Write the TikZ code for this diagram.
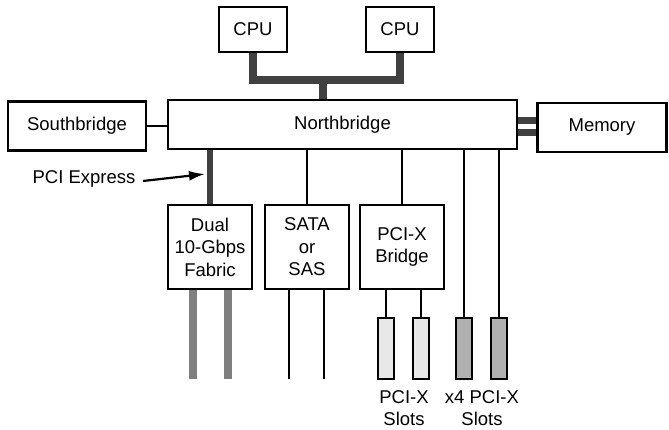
\documentclass[tikz,border=0pt]{standalone}
\usepackage{fontspec}
\setmainfont{Liberation Sans}
\usetikzlibrary{arrows.meta}
\definecolor{busgray}{HTML}{404040}
\definecolor{midgray}{HTML}{7F7F7F}
\definecolor{slotlight}{HTML}{E8E8E8}
\definecolor{slotdark}{HTML}{B0B0B0}
\begin{document}
\begin{tikzpicture}[x=1pt,y=-1pt,
  every node/.style={font=\fontsize{18.5}{22.5}\selectfont, inner sep=0pt},
  box/.style={draw, line width=2.2pt, fill=white, align=center},
  slot/.style={draw, line width=2pt, minimum width=16pt, minimum height=61pt},
  thin/.style={line width=2pt},
  bus/.style={line width=8pt, color=busgray, line join=miter},
  membus/.style={line width=6.5pt, color=busgray},
  fab/.style={line width=8pt, color=midgray},
  lbl/.style={align=center}]
\useasboundingbox (0,0) rectangle (669,429);
\fill[white] (0,0) rectangle (669,429);

% nodes
\node[box, minimum width=68pt, minimum height=45pt] (cpu1) at (253,29.5) {CPU};
\node[box, minimum width=68pt, minimum height=45pt] (cpu2) at (400,29.5) {CPU};
\node[box, minimum width=349pt, minimum height=49pt] (nb) at (342.5,124.5) {Northbridge};
\node[box, minimum width=138pt, minimum height=49pt] (sb) at (77,126) {Southbridge};
\node[box, minimum width=129pt, minimum height=49pt] (mem) at (602,127.5) {Memory};
\node[box, minimum width=84pt, minimum height=84pt] (dual) at (210,247) {Dual\\10-Gbps\\Fabric};
\node[box, minimum width=84pt, minimum height=84pt] (sata) at (307,247) {SATA\\or\\SAS};
\node[box, minimum width=84pt, minimum height=84pt] (bridge) at (402,247) {PCI-X\\Bridge};
\node[slot, fill=slotlight] (s1) at (386,348.5) {};
\node[slot, fill=slotlight] (s2) at (421,348.5) {};
\node[slot, fill=slotdark] (s3) at (464,348.5) {};
\node[slot, fill=slotdark] (s4) at (499,348.5) {};
\node[lbl] (l1) at (404,408) {PCI-X\\Slots};
\node[lbl] (l2) at (482,408) {x4 PCI-X\\Slots};
\node (pcie) at (84,179) {PCI Express};

% CPU bus
\coordinate (bus) at (323,80);
\draw[bus] (cpu1.south) |- (cpu2.south |- bus) -- (cpu2.south);
\draw[bus] (bus) -- (nb.north -| bus);

% southbridge
\draw[thin] (sb.east) -- (nb.west |- sb.east);

% memory
\coordinate (m1) at (0,120.5);
\coordinate (m2) at (0,132.7);
\draw[membus] (nb.east |- m1) -- (mem.west |- m1);
\draw[membus] (nb.east |- m2) -- (mem.west |- m2);

% PCI express
\draw[line width=6.5pt, color=busgray] (dual.north) -- (dual.north |- nb.south);
\coordinate (pcietip) at (205,174);
\coordinate (pciestart) at (143,181);
\draw[line width=2.2pt, -{Latex[length=16pt,width=10pt]}] (pciestart) -- (pcietip);

% SATA / bridge
\draw[thin] (sata.north) -- (sata.north |- nb.south);
\draw[thin] (bridge.north) -- (bridge.north |- nb.south);
\draw[thin] (s1.north) -- (s1.north |- bridge.south);
\draw[thin] (s2.north) -- (s2.north |- bridge.south);
\draw[thin] (s3.north) -- (s3.north |- nb.south);
\draw[thin] (s4.north) -- (s4.north |- nb.south);

% fabric and SATA outputs
\coordinate (f1) at (193,379);
\coordinate (f2) at (228,379);
\coordinate (d1) at (289,379);
\coordinate (d2) at (324,379);
\draw[fab] (f1) -- (f1 |- dual.south);
\draw[fab] (f2) -- (f2 |- dual.south);
\draw[thin] (d1) -- (d1 |- sata.south);
\draw[thin] (d2) -- (d2 |- sata.south);
\end{tikzpicture}
\end{document}
